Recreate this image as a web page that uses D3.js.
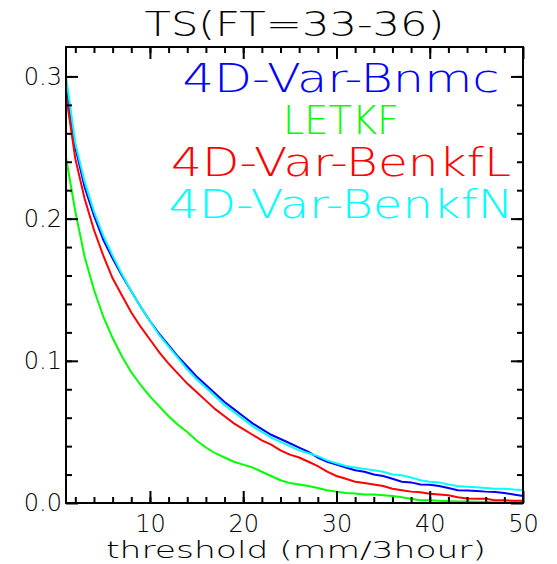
<!DOCTYPE html>
<html>
<head>
<meta charset="utf-8">
<script src="https://cdn.jsdelivr.net/npm/d3@7"></script>
<style>
  body { margin: 0; background: #fff; }
  text { font-family: "DejaVu Sans", sans-serif; }
</style>
</head>
<body>
<div id="chart"></div>
<script>
// thresholds (mm/3hour)
const thresholds = d3.range(1, 51);

// TS values for each experiment, one per threshold
const bnmc = [0.293,0.250,0.222,0.202,0.185,0.172,0.160,0.149,0.138,0.128,
  0.119,0.111,0.103,0.096,0.089,0.083,0.077,0.071,0.066,0.061,
  0.056,0.052,0.048,0.045,0.042,0.039,0.036,0.032,0.029,0.027,
  0.025,0.023,0.022,0.020,0.019,0.017,0.015,0.0145,0.013,0.0128,
  0.012,0.0105,0.009,0.0088,0.0085,0.008,0.0077,0.007,0.006,0.005];
const letkf = [0.243,0.205,0.173,0.150,0.131,0.116,0.103,0.092,0.083,0.075,
  0.068,0.061,0.055,0.050,0.044,0.039,0.035,0.032,0.029,0.027,
  0.025,0.022,0.019,0.016,0.014,0.013,0.012,0.0105,0.009,0.008,
  0.007,0.0066,0.006,0.006,0.0055,0.005,0.004,0.003,0.002,0.002,
  0.0015,0.0012,0.001,0.001,0.0008,0.0007,0.0005,0.0004,0.0003,0.0002];
const benkfL = [0.287,0.242,0.214,0.192,0.174,0.158,0.146,0.134,0.124,0.115,
  0.106,0.098,0.091,0.084,0.078,0.072,0.066,0.061,0.056,0.052,
  0.048,0.044,0.041,0.037,0.034,0.032,0.029,0.026,0.022,0.019,
  0.017,0.015,0.014,0.013,0.012,0.010,0.009,0.008,0.0075,0.0065,
  0.006,0.0055,0.004,0.0032,0.003,0.003,0.002,0.002,0.0015,0.0015];
const benkfN = [0.300,0.253,0.226,0.205,0.188,0.174,0.161,0.149,0.138,0.128,
  0.118,0.110,0.102,0.094,0.087,0.081,0.075,0.069,0.064,0.059,
  0.054,0.050,0.046,0.043,0.040,0.037,0.035,0.033,0.030,0.028,
  0.026,0.025,0.024,0.023,0.022,0.020,0.0195,0.018,0.016,0.015,
  0.0145,0.013,0.012,0.0115,0.011,0.0105,0.010,0.010,0.0095,0.0092];

const seriesNames = ["4D-Var-Bnmc", "LETKF", "4D-Var-BenkfL", "4D-Var-BenkfN"];
const seriesColors = ["#0000ff", "#00ff00", "#ff0000", "#00ffff"];
const seriesValues = [bnmc, letkf, benkfL, benkfN];

const xMajor = [10, 20, 30, 40, 50];
const xMinor = d3.range(2, 50, 2);
const yMajor = [0, 0.1, 0.2, 0.3];
const yMinor = d3.range(0.02, 0.32, 0.02);

// chart layout
const width = 557, height = 564;
const margin = {top: 47, right: 34, bottom: 61, left: 66};
const innerW = width - margin.left - margin.right;
const innerH = height - margin.top - margin.bottom;

const x = d3.scaleLinear().domain([1, 50]).range([0, innerW]);
const y = d3.scaleLinear().domain([0, 0.3207]).range([innerH, 0]);

const svg = d3.select("#chart").append("svg")
    .attr("width", width)
    .attr("height", height);

const g = svg.append("g")
    .attr("transform", "translate(" + margin.left + "," + margin.top + ")");

// title
svg.append("text")
    .attr("x", margin.left + innerW / 2)
    .attr("y", 36)
    .attr("text-anchor", "middle")
    .attr("textLength", 300)
    .attr("lengthAdjust", "spacingAndGlyphs")
    .style("font-size", "34px")
    .style("font-weight", "300")
    .text("TS(FT=33-36)");

// lines
const line = d3.line()
    .x((d, i) => x(thresholds[i]))
    .y(d => y(d));

g.selectAll(".series")
    .data(seriesValues)
    .enter().append("path")
    .attr("class", "series")
    .attr("d", d => line(d))
    .attr("fill", "none")
    .attr("stroke", (d, i) => seriesColors[i])
    .attr("stroke-width", 2);

// axes: ticks point inward on all four sides
function addAxis(axis, transform, cls) {
    const a = g.append("g").attr("class", cls).attr("transform", transform).call(axis);
    a.select(".domain").remove();
    a.selectAll("line").attr("stroke", "#000").attr("stroke-width", 2);
    a.selectAll("text").attr("fill", "#000")
        .style("font-size", "24px")
        .style("font-weight", "300")
        .style("font-family", "DejaVu Sans");
    return a;
}
const fmt = d3.format(".1f");

addAxis(d3.axisBottom(x).tickValues(xMajor).tickSize(-12).tickPadding(12), "translate(0," + innerH + ")", "axis-x");
addAxis(d3.axisBottom(x).tickValues(xMinor).tickSize(-6).tickFormat(""), "translate(0," + innerH + ")", "axis-x-minor");
addAxis(d3.axisTop(x).tickValues(xMajor).tickSize(-12).tickFormat(""), "translate(0,0)", "axis-x-top");
addAxis(d3.axisTop(x).tickValues(xMinor).tickSize(-6).tickFormat(""), "translate(0,0)", "axis-x-top-minor");

addAxis(d3.axisLeft(y).tickValues(yMajor).tickSize(-12).tickPadding(4).tickFormat(fmt), "translate(0,0)", "axis-y");
addAxis(d3.axisLeft(y).tickValues(yMinor).tickSize(-6).tickFormat(""), "translate(0,0)", "axis-y-minor");
addAxis(d3.axisRight(y).tickValues(yMajor).tickSize(-12).tickFormat(""), "translate(" + innerW + ",0)", "axis-y-right");
addAxis(d3.axisRight(y).tickValues(yMinor).tickSize(-6).tickFormat(""), "translate(" + innerW + ",0)", "axis-y-right-minor");

// frame
g.append("rect")
    .attr("width", innerW)
    .attr("height", innerH)
    .attr("fill", "none")
    .attr("stroke", "#000")
    .attr("stroke-width", 2);

// x axis label
svg.append("text")
    .attr("x", 296)
    .attr("y", 558)
    .attr("text-anchor", "middle")
    .attr("textLength", 380)
    .attr("lengthAdjust", "spacingAndGlyphs")
    .style("font-size", "23px")
    .style("font-weight", "300")
    .text("threshold (mm/3hour)");

// legend, centered text lines
const legendWidths = [317, 116, 340, 345];
svg.selectAll(".legend")
    .data(seriesNames)
    .enter().append("text")
    .attr("class", "legend")
    .attr("x", 341)
    .attr("y", (d, i) => 92 + i * 42)
    .attr("text-anchor", "middle")
    .attr("textLength", (d, i) => legendWidths[i])
    .attr("lengthAdjust", "spacingAndGlyphs")
    .attr("fill", (d, i) => seriesColors[i])
    .style("font-size", "39px")
    .style("font-weight", "300")
    .text(d => d);
</script>
</body>
</html>
